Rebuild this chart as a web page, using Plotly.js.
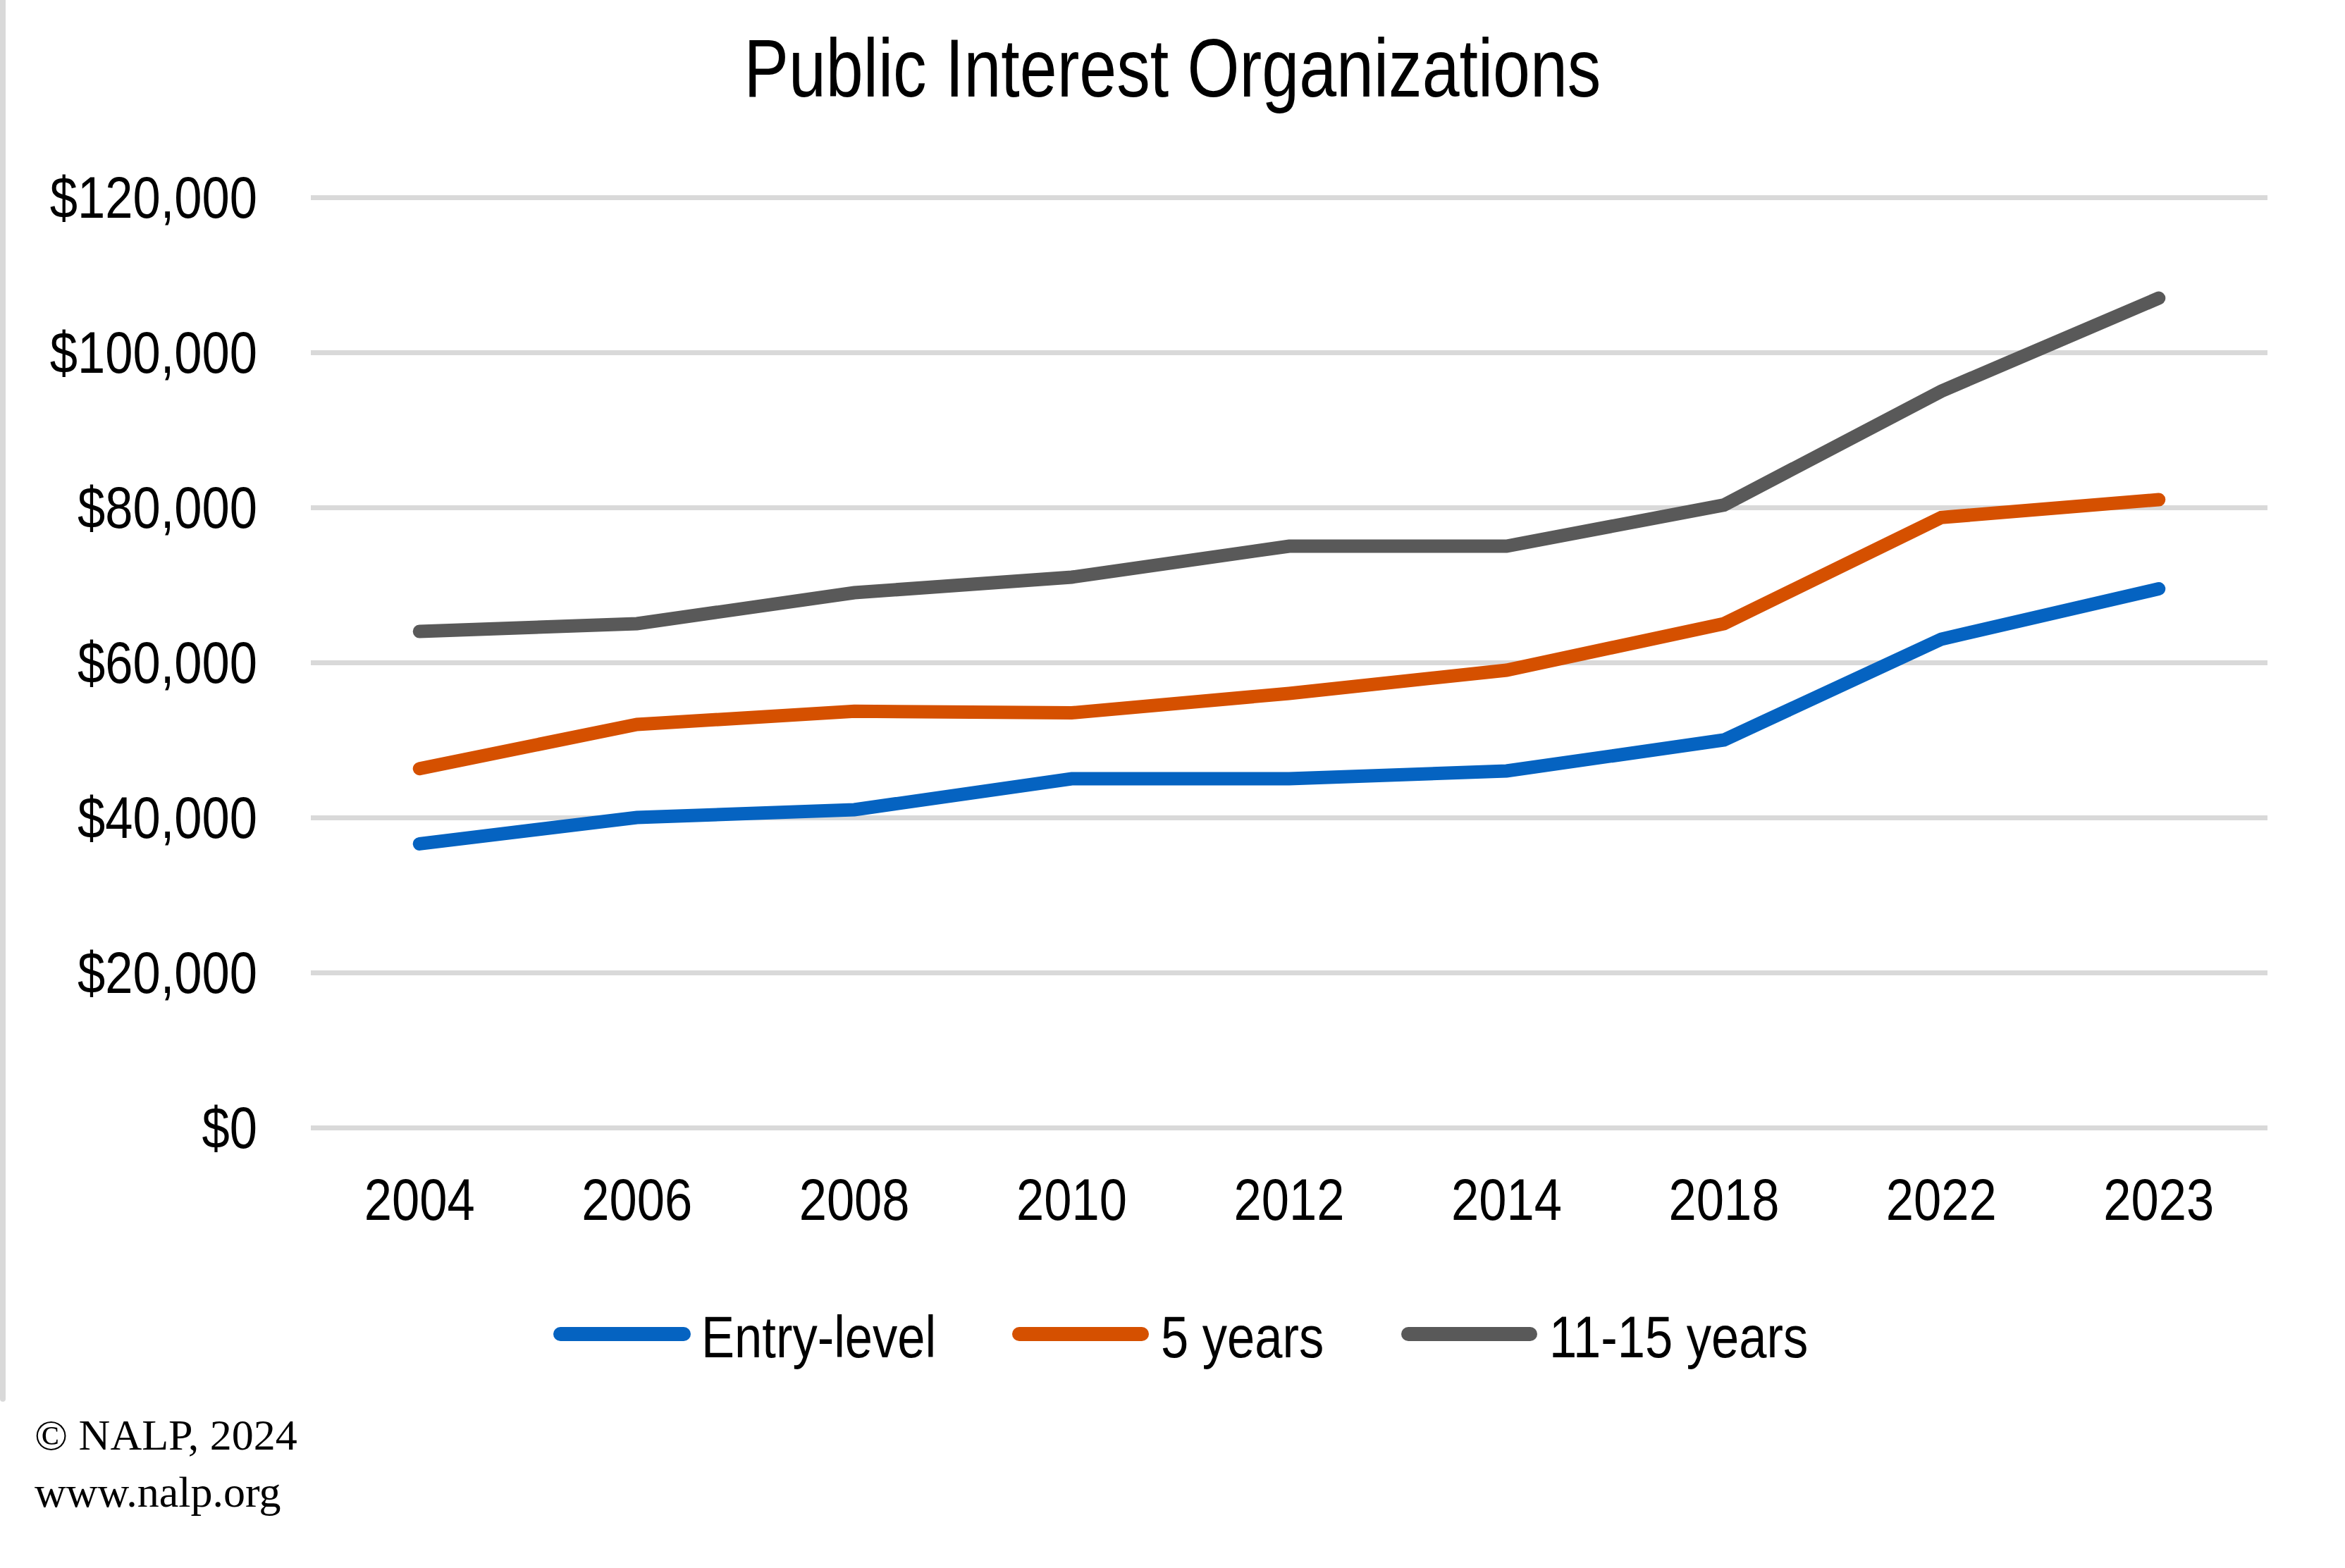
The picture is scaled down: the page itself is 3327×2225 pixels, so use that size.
<!DOCTYPE html>
<html>
<head>
<meta charset="utf-8">
<script src="https://cdn.plot.ly/plotly-3.0.1.min.js"></script>
<style>
html,body{margin:0;padding:0;background:#fff;}
#chart{width:3327px;height:2225px;}
.scatterlayer path.js-line{stroke-linecap:round;}
.legline{stroke-linecap:round;}
</style>
</head>
<body>
<div id="chart"></div>
<script>
// ---- data ----
const years = ["2004","2006","2008","2010","2012","2014","2018","2022","2023"];
const seriesNames = ["Entry-level","5 years","11-15 years"];
const entryLevel = [36600, 40000, 41000, 45000, 45000, 46000, 50000, 63000, 69500];
const fiveYears  = [46300, 52000, 53700, 53500, 56000, 59000, 65000, 78700, 81000];
const elevenFifteen = [64000, 65000, 69000, 71000, 75000, 75000, 80300, 95000, 107000];
const yTickVals = [0, 20000, 40000, 60000, 80000, 100000, 120000];
const yTickText = ["$0","$20,000","$40,000","$60,000","$80,000","$100,000","$120,000"];
const titleText = "Public Interest Organizations";
const creditText = ["© NALP, 2024", "www.nalp.org"];

// ---- styles ----
const colors = ["#0563C1", "#D55000", "#595959"];
const W = 3327, H = 2225;
const L = 441, R = 3217, T = 269, B = 1611;
const font = "Liberation Sans Narrow, Arial Narrow, Liberation Sans, Arial, sans-serif";
const xp = px => (px - L) / (R - L);
const yp = py => (B - py) / (B - T);

const allSeries = [entryLevel, fiveYears, elevenFifteen];
const traces = allSeries.map((vals, i) => ({
  x: years, y: vals, name: seriesNames[i], type: "scatter", mode: "lines",
  line: {color: colors[i], width: 19}, showlegend: false, hoverinfo: "skip"
}));

// custom legend
const legLineX = [[795, 970], [1446, 1620], [1998, 2171]];
const legTextX = [993, 1645, 2196];
const legY = 1893;
const shapes = [];
const annotations = [];
seriesNames.forEach((n, i) => {
  shapes.push({type: "line", xref: "paper", yref: "paper",
    x0: xp(legLineX[i][0]), x1: xp(legLineX[i][1]), y0: yp(legY), y1: yp(legY),
    line: {color: colors[i], width: 20}});
  annotations.push({xref: "paper", yref: "paper", x: xp(legTextX[i]), y: yp(legY + 4),
    xanchor: "left", yanchor: "middle", align: "left", text: n, showarrow: false,
    font: {family: font, size: 84, color: "#000"}});
});
// left border
shapes.push({type: "line", xref: "paper", yref: "paper",
  x0: xp(4), x1: xp(4), y0: yp(-10), y1: yp(1985),
  line: {color: "#d9d9d9", width: 8}});
// credit
annotations.push({xref: "paper", yref: "paper", x: xp(47), y: yp(2000),
  xanchor: "left", yanchor: "top", align: "left", showarrow: false,
  text: creditText.join("<br>"),
  font: {family: "Liberation Serif, Times New Roman, serif", size: 62, color: "#000"}});

const layout = {
  width: W, height: H,
  margin: {l: L, r: W - R, t: T, b: H - B, pad: 0},
  paper_bgcolor: "#fff", plot_bgcolor: "#fff",
  title: {text: titleText, x: 0.5, xref: "container", xanchor: "center",
    y: 1 - 96 / H, yref: "container", yanchor: "middle",
    font: {family: font, size: 116, color: "#000"}},
  xaxis: {type: "category", range: [-0.5, years.length - 0.5], showgrid: false,
    zeroline: false, showline: false, ticks: "", ticklabelstandoff: 35,
    tickfont: {family: font, size: 84, color: "#000"}},
  yaxis: {range: [-1000, 121000], tickvals: yTickVals, ticktext: yTickText,
    showgrid: true, gridcolor: "#d9d9d9", gridwidth: 7, zeroline: false,
    showline: false, ticks: "", ticklabelstandoff: 75,
    tickfont: {family: font, size: 84, color: "#000"}},
  showlegend: false,
  shapes: shapes,
  annotations: annotations
};

Plotly.newPlot("chart", traces, layout, {staticPlot: true, displayModeBar: false}).then(gd => {
  document.querySelectorAll(".shapelayer path").forEach(p => p.classList.add("legline"));
  // emulate a narrow (condensed) sans face: squeeze each text horizontally about its anchor
  document.querySelectorAll("#chart svg text").forEach(t => {
    const fam = t.style.fontFamily || "";
    if (fam.indexOf("Serif") >= 0) return;
    const s = t.classList.contains("gtitle") ? 0.82 : 0.84;
    const ax = parseFloat(t.getAttribute("x")) || 0;
    const tr = t.getAttribute("transform") || "";
    t.setAttribute("transform", tr + " translate(" + ax + ",0) scale(" + s + ",1) translate(" + (-ax) + ",0)");
  });
});
</script>
</body>
</html>
